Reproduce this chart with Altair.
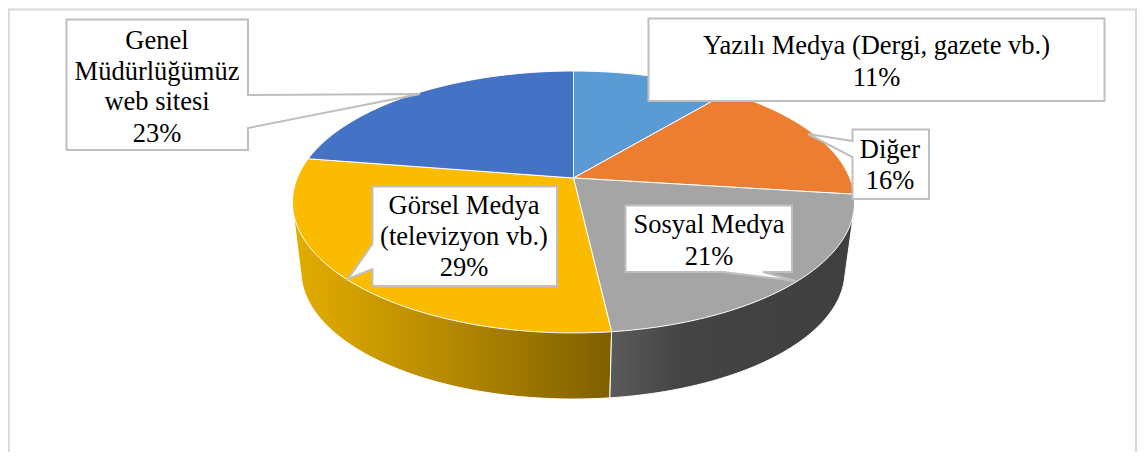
import math
import altair as alt
import pandas as pd

# ---- chart values (clockwise from the top of the pie) ----
categories = ["Yazılı Medya (Dergi, gazete vb.)", "Diğer", "Sosyal Medya",
              "Görsel Medya (televizyon vb.)", "Genel Müdürlüğümüz web sitesi"]
shares = [11, 16, 21.2, 29.3, 22.5]
top_colors = ["#5B9BD5", "#ED7D31", "#A5A5A5", "#FBBC00", "#4472C4"]

# ---- label text ----
label_lines = [
    ["Yazılı Medya (Dergi, gazete vb.)", "11%"],
    ["Diğer", "16%"],
    ["Sosyal Medya", "21%"],
    ["Görsel Medya", "(televizyon vb.)", "29%"],
    ["Genel", "Müdürlüğümüz", "web sitesi", "23%"],
]

# ---- layout (page pixels) ----
W, H = 1147, 460
M = 8
PLOT_W, PLOT_H = 1131, 444
TILT = 0.183
TOP_DISC = dict(cx=573.5, hub=178.0, rise=94.0, half=276.3)
BOTTOM_DISC = dict(cx=573.0, hub=247.6, rise=78.4, half=267.4)
label_boxes = [  # x0, x1, y0, y1
    (648.5, 1104.5, 18.5, 101),
    (852.5, 929, 129.5, 199),
    (625.5, 792, 205.5, 272),
    (372.5, 557, 186.5, 286),
    (66.5, 248, 19.5, 150),
]
label_pointers = [  # polygon points inserted into the box outline
    None,
    ("left", [(852.5, 157), (808, 134), (852.5, 141)]),
    ("bottom", [(763, 272), (796, 281), (723, 272)]),
    ("left", [(372.5, 269), (348, 279), (372.5, 244)]),
    ("right", [(248, 95), (420, 94), (248, 128)]),
]
label_centers = [
    (876.5, [46, 78]),
    (890, [150, 181]),
    (709, [225, 257]),
    (464, [206, 237, 268]),
    (157, [41, 72, 102, 134]),
]
FONT = "Liberation Serif"
FONT_SIZE = 26.5


def disc_point(d, frac):
    a = 2 * math.pi * frac
    u, v = math.sin(a), math.cos(a)
    w = 1 + TILT * v
    return d["cx"] + d["half"] * u / w, (d["hub"] - d["rise"] * v) / w


def hull(points):
    pts = sorted(set(points))
    def half_hull(seq):
        out = []
        for p in seq:
            while len(out) > 1 and ((out[-1][0] - out[-2][0]) * (p[1] - out[-2][1])
                                    - (out[-1][1] - out[-2][1]) * (p[0] - out[-2][0])) <= 0:
                out.pop()
            out.append(p)
        return out[:-1]
    return half_hull(pts) + half_hull(pts[::-1])


x_scale = alt.Scale(domain=[M, M + PLOT_W], range=[0, PLOT_W], nice=False, zero=False)
y_scale = alt.Scale(domain=[M, M + PLOT_H], range=[0, PLOT_H], nice=False, zero=False)


def poly(points, **style):
    df = pd.DataFrame({"x": [p[0] for p in points], "y": [p[1] for p in points],
                       "i": range(len(points))})
    return alt.Chart(df).mark_line(clip=False, strokeJoin="miter", **style).encode(
        x=alt.X("x:Q", scale=x_scale, axis=None),
        y=alt.Y("y:Q", scale=y_scale, axis=None),
        order="i:Q",
    )


total = sum(shares)
edges = [0]
for s in shares:
    edges.append(edges[-1] + s / total)


def arc(d, f0, f1, n=90):
    return [disc_point(d, f0 + (f1 - f0) * k / n) for k in range(n + 1)]


layers = []

# chart frame: the lower edge falls outside the picture
layers.append(poly([(8.8, M + PLOT_H + 4), (8.8, 9.5), (1136, 9.5), (1136, M + PLOT_H + 4)],
                   stroke="#D9D9D9", strokeWidth=2))

# side walls (only the two front slices face the viewer)
wall_fills = {
    2: alt.Gradient(gradient="linear", x1=0, x2=1, y1=0, y2=0, stops=[
        alt.GradientStop(offset=0, color="#5A5A5A"),
        alt.GradientStop(offset=0.3, color="#444444"),
        alt.GradientStop(offset=1, color="#3F3F3F")]),
    3: alt.Gradient(gradient="linear", x1=0, x2=1, y1=0, y2=0, stops=[
        alt.GradientStop(offset=0, color="#E3AD00"),
        alt.GradientStop(offset=0.5, color="#B48800"),
        alt.GradientStop(offset=1, color="#7F6000")]),
}
for i in (3, 2):
    outline = hull(arc(TOP_DISC, edges[i], edges[i + 1]) + arc(BOTTOM_DISC, edges[i], edges[i + 1]))
    layers.append(poly(outline, interpolate="linear-closed", fill=wall_fills[i],
                       stroke="white", strokeWidth=1))

# top face
for i, color in enumerate(top_colors):
    n = max(8, int(shares[i] * 3))
    wedge = [(TOP_DISC["cx"], TOP_DISC["hub"])] + arc(TOP_DISC, edges[i], edges[i + 1], n)
    layers.append(poly(wedge, interpolate="linear-closed", fill=color,
                       stroke="white", strokeWidth=1))

# callout boxes
for box, ptr in zip(label_boxes, label_pointers):
    x0, x1, y0, y1 = box
    if ptr is None:
        pts = [(x0, y0), (x1, y0), (x1, y1), (x0, y1)]
    elif ptr[0] == "left":
        pts = [(x0, y0), (x1, y0), (x1, y1), (x0, y1)] + ptr[1]
    elif ptr[0] == "right":
        pts = [(x0, y0), (x1, y0)] + ptr[1] + [(x1, y1), (x0, y1)]
    else:
        pts = [(x0, y0), (x1, y0), (x1, y1)] + ptr[1] + [(x0, y1)]
    layers.append(poly(pts, interpolate="linear-closed", fill="white",
                       stroke="#BFBFBF", strokeWidth=2))

# callout text
rows = []
for (cx, ys), lines in zip(label_centers, label_lines):
    for y, line in zip(ys, lines):
        rows.append({"x": cx, "y": y, "t": line})
layers.append(
    alt.Chart(pd.DataFrame(rows)).mark_text(
        font=FONT, fontSize=FONT_SIZE, color="black", align="center", baseline="middle"
    ).encode(
        x=alt.X("x:Q", scale=x_scale, axis=None),
        y=alt.Y("y:Q", scale=y_scale, axis=None),
        text="t:N",
    )
)

chart = alt.layer(*layers).properties(
    width=PLOT_W, height=PLOT_H,
    padding=0,
    background="white",
    autosize=alt.AutoSizeParams(type="none"),
)
chart = chart.configure_view(stroke=None)
chart.save("out.html", embed_options={"renderer": "svg", "actions": False})
